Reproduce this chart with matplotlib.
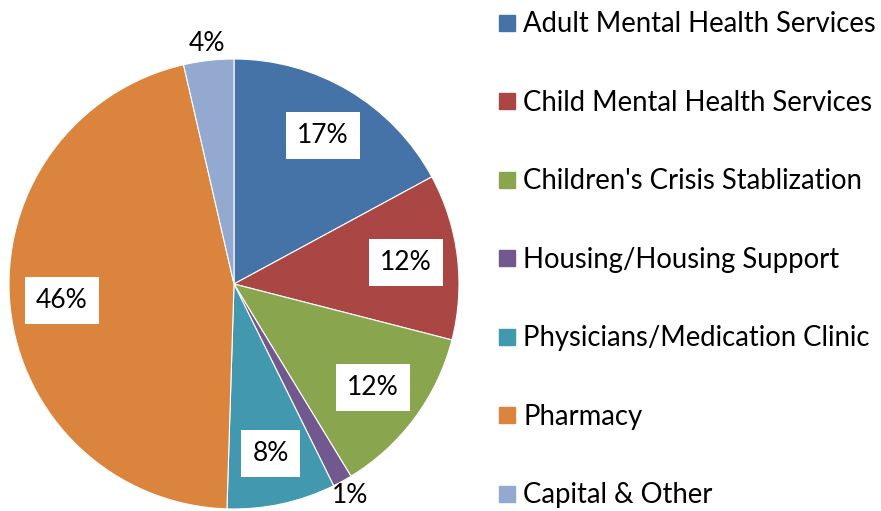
import numpy as np
import matplotlib
matplotlib.use("Agg")
import matplotlib.pyplot as plt
from matplotlib.lines import Line2D

plt.rcParams["font.family"] = ["Lato", "DejaVu Sans"]

categories = [
    "Adult Mental Health Services",
    "Child Mental Health Services",
    "Children's Crisis Stablization",
    "Housing/Housing Support",
    "Physicians/Medication Clinic",
    "Pharmacy",
    "Capital & Other",
]
shares = [17.1, 11.9, 12.3, 1.4, 7.8, 45.9, 3.6]
pct_labels = ["17%", "12%", "12%", "1%", "8%", "46%", "4%"]
colors = ["#4572A7", "#AA4643", "#89A54E", "#71588F", "#4198AF", "#DB843D", "#93A9CF"]
inside = [True, True, True, False, True, True, False]

W, H = 881, 511
fig = plt.figure(figsize=(W / 100, H / 100), dpi=100)

# pie centre (234, 284) px, radius 225 px
cx, cy, r = 234, 284, 225
ax = fig.add_axes([(cx - r) / W, (H - cy - r) / H, 2 * r / W, 2 * r / H])

wedges, _ = ax.pie(
    shares,
    colors=colors,
    startangle=90,
    counterclock=False,
    radius=1.0,
    wedgeprops=dict(edgecolor="white", linewidth=0.8),
)
ax.set_xlim(-1, 1)
ax.set_ylim(-1, 1)
ax.set_aspect("equal")
ax.axis("off")

for w, lab, ins in zip(wedges, pct_labels, inside):
    theta = np.deg2rad((w.theta1 + w.theta2) / 2)
    if ins:
        d = 0.77
        ax.text(d * np.cos(theta), d * np.sin(theta), lab, ha="center", va="center",
                fontsize=19, color="black",
                bbox=dict(boxstyle="square,pad=0.42", facecolor="white", edgecolor="none"))
    else:
        d = 1.075
        ax.text(d * np.cos(theta), d * np.sin(theta), lab, ha="center", va="center",
                fontsize=19, color="black")

handles = [Line2D([0], [0], marker="s", linestyle="none", markersize=12,
                  markerfacecolor=c, markeredgecolor=c) for c in colors]
fig.legend(handles, categories, loc="upper left", bbox_to_anchor=(478 / W, 1 + 8 / H),
           frameon=False, fontsize=19.8, handlelength=0.7, handletextpad=0.25,
           labelspacing=1.91, borderpad=0.2)

fig.savefig("out.png", dpi=100)
